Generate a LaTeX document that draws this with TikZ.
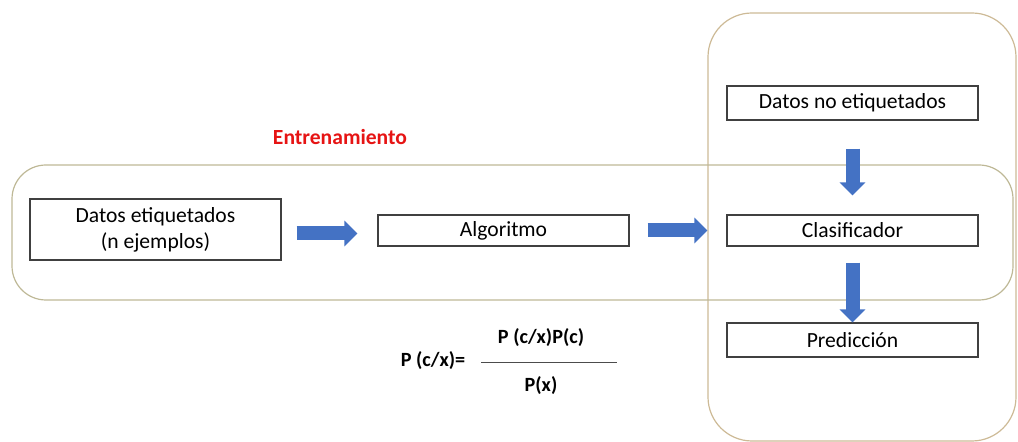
\documentclass[tikz,border=0pt]{standalone}
\usepackage{fontspec}
\setmainfont{Carlito}
\usetikzlibrary{arrows.meta}
\definecolor{flecha}{RGB}{68,114,196}
\definecolor{marcoA}{RGB}{190,184,150}
\definecolor{marcoB}{RGB}{205,186,150}
\definecolor{rojo}{RGB}{230,20,20}
\tikzset{
	caja/.style={draw=black!75,line width=0.6pt,minimum width=125.5pt,inner sep=0pt,font=\fontsize{10.8}{13}\selectfont},
	bloque/.style={flecha,line width=7pt,-{Triangle[width=12.5pt,length=6.5pt]}},
	formula/.style={font=\fontsize{10.1}{12}\selectfont\bfseries,inner sep=0pt}
}
\begin{document}
\begin{tikzpicture}[x=0.5pt,y=-0.5pt]
	\useasboundingbox (0,0) rectangle (1018,442);
	% zonas
	\draw[marcoB,line width=0.6pt,rounded corners=22pt] (708,13) rectangle (1016,441);
	\draw[marcoA,line width=0.6pt,rounded corners=17pt] (12,165) rectangle (1013,300);
	\node[rojo,font=\fontsize{10.8}{13}\selectfont\bfseries] (entre) at (340,137) {Entrenamiento};
	% cajas
	\node[caja,minimum height=30.5pt,align=center] (datos) at (155.5,229.5) {Datos etiquetados\\(n ejemplos)};
	\node[caja,minimum height=15.5pt] (algo) at (503.5,230.5) {Algoritmo};
	\node[caja,minimum height=17pt] (noetiq) at (852.5,103) {Datos no etiquetados};
	\node[caja,minimum height=15.5pt] (clasif) at (852.5,230.5) {Clasificador};
	\node[caja,minimum height=17pt] (pred) at (852.5,340) {Predicción};
	% flechas
	\draw[bloque] ([xshift=7.5pt,yshift=-2pt]datos.east) -- ([xshift=-10pt,yshift=-1.5pt]algo.west);
	\draw[bloque] ([xshift=9pt]algo.east) -- ([xshift=-9.5pt]clasif.west);
	\draw[bloque] ([yshift=-14pt]noetiq.south) -- ([yshift=9.5pt]clasif.north);
	\draw[bloque] ([yshift=-8pt]clasif.south) -- (pred.north);
	% formula
	\node[formula] (izq) at (433,361) {P (c/x)=};
	\node[formula] (num) at (541,338) {P (c/x)P(c)};
	\node[formula] (den) at (541,386) {P(x)};
	\coordinate (r1) at (481,363);
	\coordinate (r2) at (617,363);
	\draw[black!70,line width=0.5pt] (r1) -- (r2);
\end{tikzpicture}
\end{document}
